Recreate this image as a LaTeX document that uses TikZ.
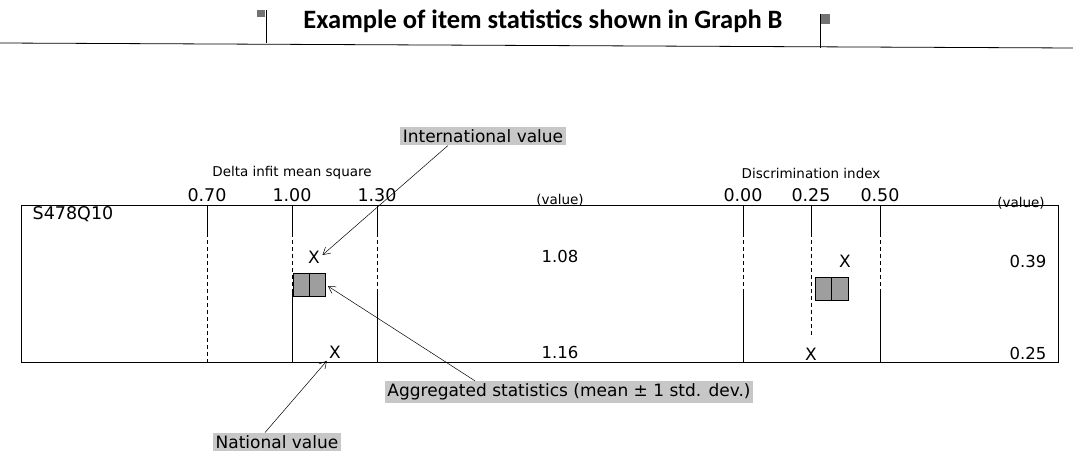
\documentclass[tikz,border=0pt]{standalone}
\usepackage{fontspec}
\setmainfont{DejaVu Sans}
\newfontfamily\headfont{Carlito}
\usetikzlibrary{arrows.meta}

\begin{document}
\begin{tikzpicture}[x=1pt, y=-1pt, line width=0.8pt,
    lbl/.style={fill=black!22, inner sep=2.5pt, font=\fontsize{17}{17}\selectfont},
    tick/.style={font=\fontsize{17.5}{17.5}\selectfont},
    axis/.style={font=\fontsize{13.5}{14}\selectfont},
    val/.style={font=\fontsize{16.5}{16.5}\selectfont},
    cross/.style={font=\fontsize{17}{17}\selectfont, inner sep=0pt},
    sdbox/.style={draw, fill=black!38, minimum width=32pt, minimum height=23pt, inner sep=0pt},
    callout/.style={-{Straight Barb[length=7pt, width=8pt]}, line width=0.5pt, shorten >=3pt},
    cut/.style={dash pattern=on 4pt off 3pt}]
  \useasboundingbox (0,0) rectangle (1073,454);
  % heading with its two flags
  \draw (0,43) -- (1073,48);
  \draw (266,10) -- (266,43);
  \fill[black!55] (257,10) rectangle (265,17);
  \draw (820,14) -- (820,48);
  \fill[black!55] (821,14) rectangle (830,24);
  \node[font=\headfont\bfseries\fontsize{26.5}{26.5}\selectfont] (title) at (543,21)
    {Example of item statistics shown in Graph B};
  % table frame and scale lines
  \draw (21,205) rectangle (1058,362);
  \foreach \x in {292,377,743,880} {
    \draw (\x,205) -- (\x,233);
    \draw[cut] (\x,233) -- (\x,290);
    \draw (\x,290) -- (\x,362);
  }
  \draw (207,205) -- (207,233);
  \draw[cut] (207,233) -- (207,362);
  \draw (811,205) -- (811,233);
  \draw[cut] (811,233) -- (811,338);
  % column headings
  \node[axis] (infit) at (292,173) {Delta infit mean square};
  \node[axis] (discr) at (811,173) {Discrimination index};
  \foreach \x/\t in {207/0.70, 292/1.00, 377/1.30, 743/0.00, 811/0.25, 880/0.50}
    \node[tick] (s\x) at (\x,195) {\t};
  \node[axis] (valA) at (560,200) {(value)};
  \node[axis] (valB) at (1021,203) {(value)};
  \node[tick, anchor=west] (item) at (29,214) {S478Q10};
  % statistics
  \node[val] (infitI) at (560,256) {1.08};
  \node[val] (infitN) at (560,352) {1.16};
  \node[val, anchor=east] (discrI) at (1050,261) {0.39};
  \node[val, anchor=east] (discrN) at (1050,353) {0.25};
  \node[cross] (xintl) at (314,257) {X};
  \node[cross] (xnat) at (335,352) {X};
  \node[cross] (dxintl) at (845,261) {X};
  \node[cross] (dxnat) at (811,354) {X};
  \node[sdbox] (dbox) at (309,284.5) {};
  \draw (dbox.north) -- (dbox.south);
  \node[sdbox, minimum width=33pt] (ibox) at (831.5,288.5) {};
  \draw (ibox.north) -- (ibox.south);
  % callouts
  \node[lbl] (intl) at (483,136) {International value};
  \node[lbl] (agg) at (569,392) {Aggregated statistics (mean ± 1 std. dev.)};
  \node[lbl] (nat) at (277,442) {National value};
  \draw[callout] ([xshift=-35pt]intl.south) -- (xintl.east);
  \draw[callout] ([xshift=-94pt]agg.north) -- (dbox.east);
  \draw[callout] ([xshift=-12pt]nat.north) -- (xnat.south west);
\end{tikzpicture}
\end{document}
